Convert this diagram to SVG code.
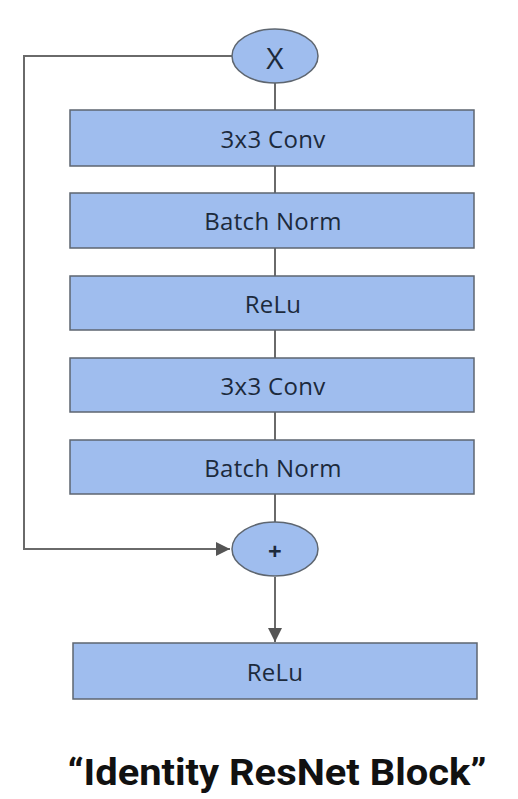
<svg xmlns="http://www.w3.org/2000/svg" width="518" height="799" viewBox="0 0 518 799">
<style>
.box{fill:#9fbdee;stroke:#5e6670;stroke-width:1.5}
.lbl{font-family:"Open Sans","Liberation Sans",sans-serif;font-size:24px;fill:#1c2a3c;text-anchor:middle;dominant-baseline:central;letter-spacing:0.3px}
.ln{stroke:#6a6a6a;stroke-width:2;fill:none}
</style>
<defs>
<marker id="ah2" viewBox="0 0 10 10" refX="10" refY="5" markerWidth="14" markerHeight="14" markerUnits="userSpaceOnUse" orient="auto">
<path d="M0,0 L10,5 L0,10 z" fill="#555"/>
</marker>
</defs>
<rect width="518" height="799" fill="#ffffff"/>
<g id="connectors">
<path class="ln" d="M232,56 H24 V549 H230" marker-end="url(#ah2)"/>
<line class="ln" x1="275" y1="83" x2="275" y2="110"/>
<line class="ln" x1="275" y1="166" x2="275" y2="193"/>
<line class="ln" x1="275" y1="248" x2="275" y2="276"/>
<line class="ln" x1="275" y1="330" x2="275" y2="358"/>
<line class="ln" x1="275" y1="412" x2="275" y2="440"/>
<line class="ln" x1="275" y1="494" x2="275" y2="522"/>
<line class="ln" x1="275" y1="577" x2="275" y2="642" marker-end="url(#ah2)"/>
</g>
<g id="x">
<ellipse class="box" cx="275" cy="56" rx="43" ry="27"/>
<text class="lbl" x="275" y="57" style="font-size:30px">X</text>
</g>
<g id="conv1">
<rect class="box" x="70" y="110" width="404" height="56"/>
<text class="lbl" x="273" y="138">3x3 Conv</text>
</g>
<g id="bn1">
<rect class="box" x="70" y="193" width="404" height="55"/>
<text class="lbl" x="273" y="220">Batch Norm</text>
</g>
<g id="relu1">
<rect class="box" x="70" y="276" width="404" height="54"/>
<text class="lbl" x="273" y="303">ReLu</text>
</g>
<g id="conv2">
<rect class="box" x="70" y="358" width="404" height="54"/>
<text class="lbl" x="273" y="385">3x3 Conv</text>
</g>
<g id="bn2">
<rect class="box" x="70" y="440" width="404" height="54"/>
<text class="lbl" x="273" y="467">Batch Norm</text>
</g>
<g id="plus">
<ellipse class="box" cx="275" cy="549" rx="43" ry="27"/>
<text class="lbl" x="275" y="550" style="font-size:24px;font-weight:bold">+</text>
</g>
<g id="relu2">
<rect class="box" x="73" y="643" width="404" height="56"/>
<text class="lbl" x="275" y="671">ReLu</text>
</g>
<text x="277" y="785" font-family="Roboto,'Liberation Sans',sans-serif" font-size="36" font-weight="bold" fill="#111" text-anchor="middle" textLength="419" lengthAdjust="spacingAndGlyphs">“Identity ResNet Block”</text>
</svg>
